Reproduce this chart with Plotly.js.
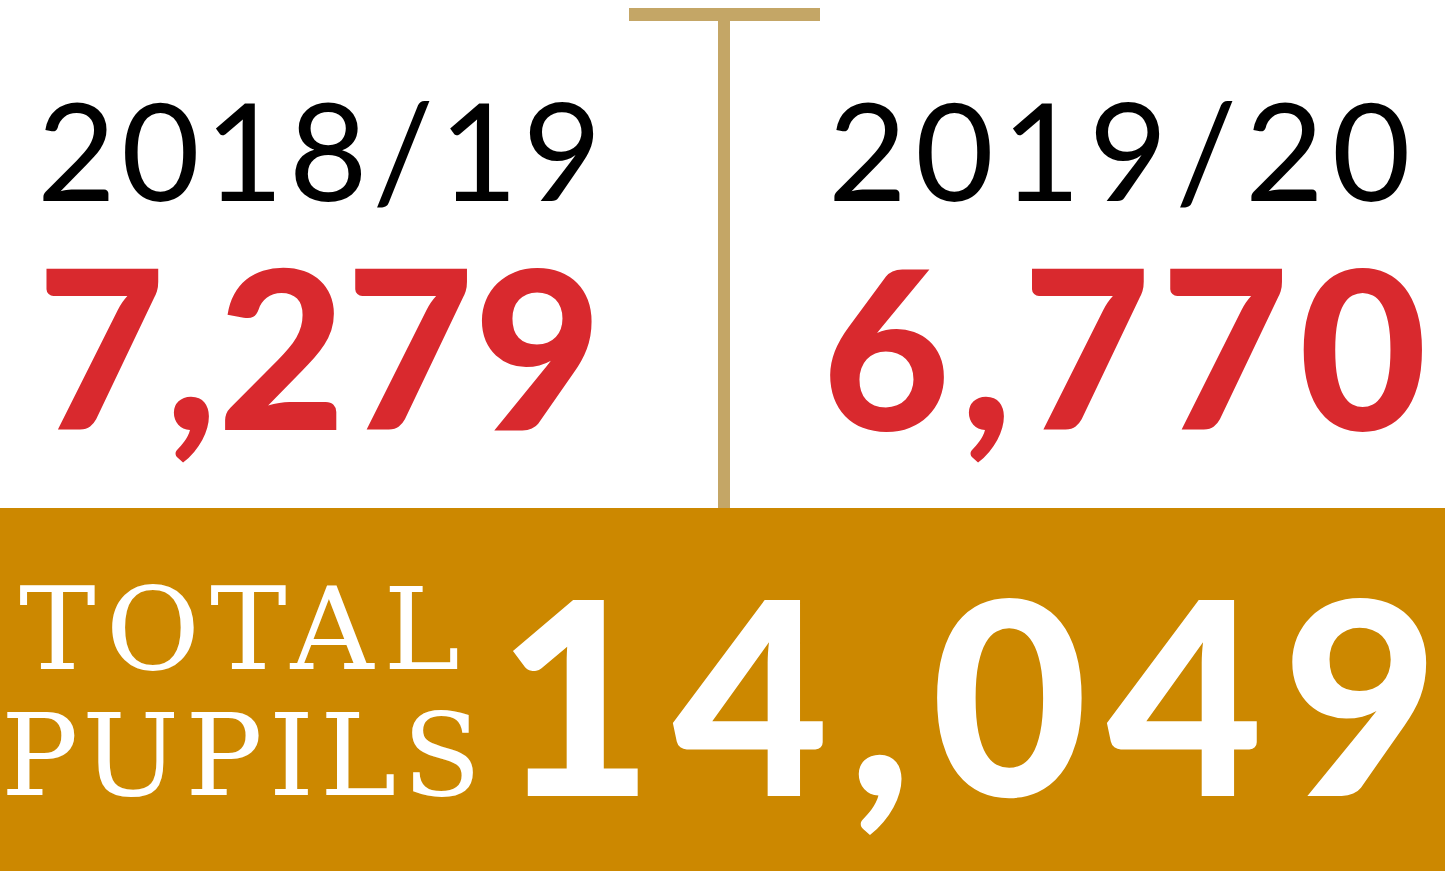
<!DOCTYPE html>
<html><head><meta charset="utf-8">
<script src="https://cdn.plot.ly/plotly-3.0.1.min.js"></script>
<style>
html,body{margin:0;padding:0;background:#fff}#chart{width:1445px;height:871px}
g.annotation[data-index="0"] text{letter-spacing:5px}
g.annotation[data-index="2"] text{letter-spacing:8px}
g.annotation[data-index="4"] text{letter-spacing:10px}
g.annotation[data-index="5"] text{letter-spacing:6px}
</style>
</head><body><div id="chart"></div>
<script>
const years = ["2018/19", "2019/20"];
const pupils = [7279, 6770];
const totalLabel = ["TOTAL", "PUPILS"];
const total = pupils.reduce((a, b) => a + b, 0); // 14,049

const W = 1445, H = 871;
const px = x => x / W, py = y => 1 - y / H;
const fmt = v => v.toLocaleString("en-US");
// spread all glyphs except the last one (keeps the text box inside the page)
const spread = (s, sp) => `<span style="letter-spacing:${sp}px">${s.slice(0, -1)}</span>${s.slice(-1)}`;

const gold = "#CC8800", tan = "#C4A666", red = "#D9292E";
const numFont = "Lato, Roboto, sans-serif";

const yearX = [36, 827];
const numX = [36, 821];
const numSpread = [0, 10];
const annotations = [];
years.forEach((yr, i) => {
  annotations.push({text: yr, x: px(yearX[i]), y: py(148), xanchor: "left", yanchor: "middle",
    font: {family: "Lato", size: 136, color: "#000", weight: 400}});
  annotations.push({text: spread(fmt(pupils[i]), numSpread[i]), x: px(numX[i]), y: py(345), xanchor: "left", yanchor: "middle",
    font: {family: numFont, size: 221, color: red, weight: 900}});
});
annotations.push({text: totalLabel[0], x: px(18), y: py(629), xanchor: "left", yanchor: "middle",
  font: {family: "DejaVu Serif", size: 115, color: "#fff"}});
annotations.push({text: totalLabel[1], x: px(0), y: py(755), xanchor: "left", yanchor: "middle",
  font: {family: "DejaVu Serif", size: 115, color: "#fff"}});
annotations.push({text: spread(fmt(total), 19), x: px(496), y: py(692), xanchor: "left", yanchor: "middle",
  font: {family: numFont, size: 270, color: "#fff", weight: 900}});
annotations.forEach(a => { a.xref = "paper"; a.yref = "paper"; a.showarrow = false; a.borderpad = 0; a.align = "left"; });

const shapes = [
  {type: "rect", xref: "paper", yref: "paper", x0: 0, x1: 1, y0: 0, y1: py(508), fillcolor: gold, line: {width: 0}, layer: "below"},
  {type: "rect", xref: "paper", yref: "paper", x0: px(718), x1: px(730), y0: py(508), y1: py(20), fillcolor: tan, line: {width: 0}},
  {type: "rect", xref: "paper", yref: "paper", x0: px(629), x1: px(820), y0: py(21), y1: py(8), fillcolor: tan, line: {width: 0}}
];

Plotly.newPlot("chart", [], {
  width: W, height: H, margin: {l: 0, r: 0, t: 0, b: 0},
  paper_bgcolor: "#fff", plot_bgcolor: "#fff",
  xaxis: {visible: false, range: [0, 1]}, yaxis: {visible: false, range: [0, 1]},
  showlegend: false, annotations, shapes
}, {staticPlot: true, displayModeBar: false});
</script></body></html>
